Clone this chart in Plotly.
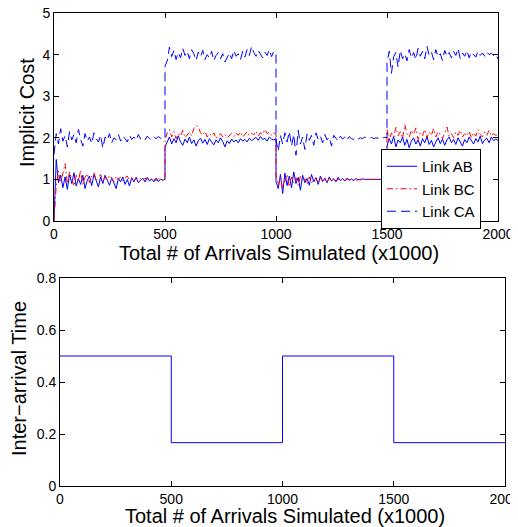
import numpy as np
import plotly.graph_objects as go

# ---------------- data ----------------
seg_bounds = [0, 500, 1000, 1500, 2000]   # x (x1000 arrivals)

ab_seg1 = [0.00, 1.48, 0.92, 1.10, 0.80, 1.06, 0.76, 1.12, 0.90, 1.16,
           0.84, 1.02, 0.88, 1.10, 0.78, 0.98, 1.08, 0.85, 1.12, 0.94,
           0.82, 1.06, 0.90, 1.10, 0.96, 0.86, 1.04, 0.92, 0.78, 1.02,
           0.94, 1.06, 0.88, 1.00, 0.84, 1.04, 0.94, 1.05, 0.92, 0.98,
           1.03, 0.94, 1.05, 0.96, 1.01, 0.94, 1.03, 0.95, 1.01, 0.98,
           1.00]
ab_seg2 = [1.78, 1.92, 2.02, 1.85, 1.98, 1.88, 2.05, 1.90, 1.82, 1.97,
           1.88, 2.02, 1.86, 1.95, 1.80, 1.93, 1.99, 1.87, 1.96, 1.84,
           1.98, 1.90, 1.83, 1.95, 1.88, 2.00, 1.91, 1.78, 1.93, 1.86,
           1.97, 1.90, 1.95, 1.88, 1.98, 1.92, 1.96, 1.90, 1.99, 1.93,
           1.97, 2.01, 1.94, 2.03, 1.96, 1.99, 1.92, 2.02, 1.97, 1.95,
           1.98]
ab_seg3 = [0.95, 0.78, 1.12, 0.66, 1.15, 0.85, 1.08, 0.80, 1.18, 0.90,
           1.05, 0.74, 1.10, 0.92, 1.02, 0.86, 1.12, 0.94, 1.04, 0.88,
           1.08, 0.95, 1.02, 0.92, 1.06, 0.96, 1.01, 0.94, 1.05, 0.97,
           1.02, 0.96, 1.03, 0.98, 1.01, 0.97, 1.02, 0.99, 1.00, 1.01,
           1.00, 1.00, 1.00, 1.00, 1.00, 1.00, 1.00, 1.00, 1.00, 1.00,
           1.00]
ab_seg4 = [1.80, 1.98, 1.85, 2.04, 1.78, 1.95, 1.88, 2.02, 1.82, 1.96,
           1.76, 1.92, 2.00, 1.85, 1.95, 1.80, 1.98, 1.88, 2.03, 1.84,
           1.94, 1.78, 1.90, 2.00, 1.86, 1.97, 1.82, 1.95, 2.02, 1.88,
           1.96, 1.84, 2.00, 1.90, 1.80, 1.96, 1.88, 2.02, 1.92, 1.85,
           1.98, 1.90, 2.04, 1.86, 1.95, 1.99, 1.88, 2.02, 1.93, 1.97,
           1.94]

bc_seg1 = [0.00, 0.85, 1.20, 0.92, 1.15, 1.38, 0.90, 1.18, 1.02, 0.84,
           1.10, 0.96, 1.22, 0.88, 1.05, 1.14, 0.92, 1.08, 1.16, 0.98,
           1.04, 1.12, 0.94, 1.06, 0.98, 1.10, 1.02, 0.95, 1.08, 1.00,
           1.06, 0.97, 1.04, 1.08, 0.99, 1.03, 0.96, 1.05, 1.00, 1.02,
           0.97, 1.03, 0.99, 1.02, 0.98, 1.01, 0.97, 1.02, 1.00, 0.99,
           1.01]
bc_seg2 = [1.95, 2.12, 2.20, 2.02, 2.15, 1.98, 2.10, 2.04, 2.18, 2.00,
           2.08, 2.14, 2.05, 2.22, 2.30, 2.26, 2.12, 2.06, 2.15, 2.02,
           2.10, 2.04, 2.12, 1.98, 2.06, 2.10, 2.02, 2.08, 2.00, 2.05,
           2.10, 2.03, 2.12, 2.06, 2.14, 2.02, 2.09, 2.15, 2.05, 2.11,
           2.07, 2.16, 2.04, 2.12, 2.08, 2.20, 2.10, 2.14, 2.06, 2.12,
           2.08]
bc_seg3 = [1.10, 0.85, 1.05, 0.78, 0.98, 1.12, 0.82, 1.06, 0.92, 1.04,
           0.86, 1.08, 0.95, 1.02, 0.88, 1.06, 0.92, 0.98, 1.04, 0.90,
           1.03, 0.96, 1.05, 0.94, 1.02, 0.97, 1.04, 0.95, 1.01, 0.98,
           1.02, 0.97, 1.01, 0.99, 1.02, 0.98, 0.96, 1.00, 0.99, 1.00,
           1.00, 1.00, 1.00, 1.00, 1.00, 1.00, 1.00, 1.00, 1.00, 1.00,
           1.00]
bc_seg4 = [2.20, 1.95, 2.12, 2.02, 2.25, 2.05, 2.15, 1.98, 2.32, 2.10,
           2.02, 2.18, 2.08, 2.24, 1.96, 2.12, 2.05, 2.20, 2.00, 2.14,
           2.06, 2.22, 2.02, 2.15, 2.08, 1.98, 2.12, 2.26, 2.04, 2.10,
           2.00, 2.14, 2.06, 2.18, 2.02, 2.10, 2.05, 2.16, 2.00, 2.12,
           2.04, 2.20, 2.08, 2.02, 2.14, 2.06, 2.18, 2.04, 2.10, 2.06,
           2.08]

ca_seg1 = [1.60, 2.10, 1.85, 2.22, 1.92, 2.05, 1.78, 2.15, 1.95, 2.08,
           1.88, 2.20, 1.96, 1.80, 2.10, 1.92, 2.02, 1.86, 2.12, 1.98,
           1.90, 2.06, 1.75, 2.02, 1.94, 2.10, 1.88, 2.00, 1.95, 2.08,
           1.92, 2.04, 1.98, 1.90, 2.06, 1.96, 2.02, 1.94, 2.08, 1.97,
           2.00, 1.95, 2.04, 1.98, 1.96, 2.02, 1.98, 2.03, 1.99, 2.00,
           1.98]
ca_seg2 = [3.72, 3.85, 4.18, 3.95, 4.10, 3.88, 4.05, 3.92, 4.15, 3.98,
           4.08, 3.90, 4.12, 4.02, 3.86, 4.06, 3.95, 4.10, 3.88, 4.00,
           3.92, 4.08, 3.85, 3.98, 4.05, 3.90, 4.02, 3.82, 3.95, 4.04,
           3.90, 4.10, 3.96, 4.02, 3.88, 4.08, 3.94, 4.12, 3.98, 4.20,
           4.05, 3.96, 4.10, 4.02, 3.92, 4.06, 3.98, 4.12, 3.95, 4.08,
           4.02]
ca_seg3 = [1.95, 1.68, 2.05, 1.85, 2.12, 1.90, 2.15, 1.80, 2.08, 1.58,
           2.18, 1.85, 2.02, 1.72, 2.10, 1.94, 2.06, 1.82, 2.12, 1.96,
           2.04, 1.88, 2.08, 1.95, 2.02, 1.80, 2.06, 1.98, 1.92, 2.04,
           1.97, 2.02, 1.94, 2.03, 1.98, 1.96, 2.01, 1.97, 2.00, 1.98,
           2.02, 1.99, 1.97, 2.01, 1.98, 2.00, 1.99, 2.02, 2.00, 2.01,
           2.00]
ca_seg4 = [3.80, 4.08, 3.55, 3.95, 4.05, 3.70, 4.10, 3.90, 4.02, 3.85,
           4.12, 3.92, 4.05, 3.88, 4.15, 3.96, 4.08, 3.90, 4.20, 3.98,
           4.06, 3.88, 4.12, 3.94, 4.02, 3.86, 4.10, 3.96, 4.05, 3.92,
           4.08, 3.98, 4.15, 3.90, 4.04, 3.96, 4.10, 3.92, 4.06, 4.00,
           3.94, 4.08, 3.98, 4.04, 3.96, 4.06, 4.00, 4.03, 3.98, 4.02,
           3.90]

arrival_x = [0, 500, 1000, 1500, 2000]
arrival_time = [0.5, 0.1667, 0.5, 0.1667, 0.1667]

x_ticks = [0, 500, 1000, 1500, 2000]
x_title = "Total # of Arrivals Simulated (x1000)"


def build(segs):
    xs, ys = [], []
    for k, seg in enumerate(segs):
        xs.extend(np.linspace(seg_bounds[k], seg_bounds[k + 1], len(seg)).tolist())
        ys.extend(seg)
    return xs, ys


ab_x, ab_y = build([ab_seg1, ab_seg2, ab_seg3, ab_seg4])
bc_x, bc_y = build([bc_seg1, bc_seg2, bc_seg3, bc_seg4])
ca_x, ca_y = build([ca_seg1, ca_seg2, ca_seg3, ca_seg4])

FONT = "Liberation Sans, Arial, Helvetica, sans-serif"
OFF = 8                      # page body margin of the html page
W, H = 518 - OFF, 527 - OFF  # figure size so that it fits in the window


def px(xw):  # window x pixel -> paper fraction
    return (xw - OFF) / W


def py(yw):  # window y pixel -> paper fraction
    return 1 - (yw - OFF) / H


fig = go.Figure()
fig.add_trace(go.Scatter(x=ab_x, y=ab_y, mode="lines", name="Link AB",
                         line=dict(color="#0000ff", width=1),
                         xaxis="x", yaxis="y"))
fig.add_trace(go.Scatter(x=bc_x, y=bc_y, mode="lines", name="Link BC",
                         line=dict(color="#ff0000", width=1, dash="6px,3px,1.5px,3px"),
                         xaxis="x", yaxis="y"))
fig.add_trace(go.Scatter(x=ca_x, y=ca_y, mode="lines", name="Link CA",
                         line=dict(color="#0000ff", width=1, dash="9px,5px"),
                         xaxis="x", yaxis="y"))
fig.add_trace(go.Scatter(x=arrival_x, y=arrival_time, mode="lines",
                         line=dict(color="#0000ff", width=1, shape="hv"),
                         showlegend=False, xaxis="x2", yaxis="y2"))

axis_common = dict(showline=True, linecolor="black", linewidth=1, mirror="ticks",
                   ticks="inside", ticklen=5, tickcolor="black", showgrid=False,
                   zeroline=False, automargin=False, ticklabeloverflow="allow",
                   tickfont=dict(family=FONT, size=14, color="black"))

fig.update_layout(
    template="none",
    width=W, height=H,
    margin=dict(l=0, r=0, t=0, b=0, autoexpand=False),
    paper_bgcolor="white", plot_bgcolor="white",
    font=dict(family=FONT, color="black"),
    xaxis=dict(domain=[px(54), px(498)], range=[0, 2000], tickvals=x_ticks,
               anchor="y", **axis_common),
    yaxis=dict(domain=[py(221), py(13)], range=[0, 5], dtick=1,
               anchor="x", **axis_common),
    xaxis2=dict(domain=[px(60), px(505)], range=[0, 2000], tickvals=x_ticks,
                anchor="y2", **axis_common),
    yaxis2=dict(domain=[py(486), py(278)], range=[0, 0.8], dtick=0.2,
                anchor="x2", **axis_common),
    legend=dict(x=px(381), y=py(149), xanchor="left", yanchor="top",
                bgcolor="white", bordercolor="black", borderwidth=1,
                font=dict(family=FONT, size=15, color="black"),
                tracegroupgap=0),
    annotations=[
        dict(text=x_title, xref="paper", yref="paper", x=px(279), y=py(253),
             xanchor="center", yanchor="middle", showarrow=False,
             font=dict(family=FONT, size=20)),
        dict(text=x_title, xref="paper", yref="paper", x=px(285), y=py(516),
             xanchor="center", yanchor="middle", showarrow=False,
             font=dict(family=FONT, size=20)),
        dict(text="Implicit Cost", xref="paper", yref="paper", x=px(27), y=py(113),
             xanchor="center", yanchor="middle", showarrow=False, textangle=-90,
             font=dict(family=FONT, size=20)),
        dict(text="Inter\u2212arrival Time", xref="paper", yref="paper", x=px(19),
             y=py(379), xanchor="center", yanchor="middle", showarrow=False,
             textangle=-90, font=dict(family=FONT, size=20)),
    ],
)

fig.write_html("out.html")
